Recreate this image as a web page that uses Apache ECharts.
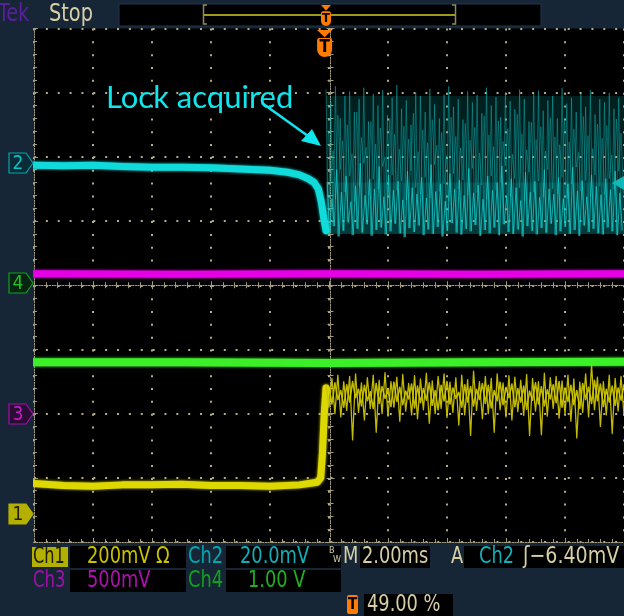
<!DOCTYPE html>
<html><head><meta charset="utf-8">
<script src="https://cdn.jsdelivr.net/npm/echarts/dist/echarts.min.js"></script>
<style>html,body{margin:0;padding:0;background:#172637;}#c{width:624px;height:616px;}</style>
</head><body><div id="c"></div>
<script>
// ---------- DATA (x in divisions 0..10, y in divisions 0..8) ----------
const ch2PreX = [0.00, 0.50, 1.00, 1.50, 2.00, 2.50, 3.00, 3.50, 4.00, 4.30, 4.50, 4.65, 4.75, 4.82, 4.87, 4.91, 4.95];
const ch2PreY = [5.87, 5.86, 5.87, 5.85, 5.84, 5.84, 5.83, 5.81, 5.79, 5.76, 5.72, 5.66, 5.60, 5.50, 5.30, 5.05, 4.85];

const noiseStart = 4.95, cyanStep = 0.08;
const cyanHi = [7.05, 6.85, 7.10, 6.60, 6.95, 7.02, 6.70, 6.90, 7.08, 6.55, 6.98, 6.80, 7.04, 6.65, 6.92, 7.12, 6.75, 6.88, 6.50, 7.00, 6.95, 6.70, 7.06, 6.82, 6.60, 6.97, 7.10, 6.78, 6.90, 6.58, 7.02, 6.85, 6.96, 6.68, 7.08, 6.80, 6.93, 6.62, 7.00, 6.87, 6.74, 7.05, 6.90, 6.55, 6.98, 7.03, 6.72, 6.88, 6.95, 6.60, 7.07, 6.83, 6.92, 6.70, 6.99, 6.78, 7.04, 6.66, 6.90, 6.85, 7.00, 6.75, 6.92];
const cyanUp = [6.40, 6.10, 6.65, 6.25, 6.50, 6.05, 6.70, 6.30, 6.15, 6.55, 6.20, 6.45, 6.00, 6.60, 6.35, 6.12, 6.48, 6.28, 6.68, 6.08, 6.42, 6.22, 6.58, 6.18, 6.38, 6.02, 6.62, 6.32, 6.14, 6.52, 6.26, 6.46, 6.06, 6.64, 6.34, 6.16, 6.56, 6.24, 6.44, 6.04, 6.66, 6.36, 6.11, 6.54, 6.27, 6.47, 6.09, 6.61, 6.31, 6.19, 6.57, 6.23, 6.43, 6.07, 6.63, 6.33, 6.13, 6.51, 6.29, 6.49, 6.03, 6.59, 6.37];
const cyanMid = [5.60, 5.35, 5.80, 5.45, 5.70, 5.30, 5.55, 5.90, 5.40, 5.65, 5.50, 5.85, 5.38, 5.72, 5.48, 5.62, 5.33, 5.78, 5.52, 5.42, 5.68, 5.36, 5.88, 5.46, 5.58, 5.31, 5.74, 5.50, 5.64, 5.40, 5.82, 5.44, 5.56, 5.34, 5.70, 5.48, 5.60, 5.86, 5.39, 5.66, 5.52, 5.32, 5.76, 5.45, 5.62, 5.37, 5.80, 5.50, 5.42, 5.68, 5.35, 5.58, 5.84, 5.47, 5.63, 5.38, 5.72, 5.54, 5.41, 5.66, 5.49, 5.78, 5.44];
const cyanLo = [4.80, 4.92, 4.76, 4.85, 4.98, 4.78, 4.88, 4.82, 4.95, 4.77, 4.86, 4.90, 4.79, 4.84, 4.96, 4.81, 4.75, 4.89, 4.83, 4.93, 4.78, 4.87, 4.80, 4.91, 4.76, 4.85, 4.97, 4.82, 4.79, 4.88, 4.84, 4.94, 4.77, 4.86, 4.81, 4.90, 4.78, 4.95, 4.83, 4.80, 4.87, 4.76, 4.92, 4.85, 4.79, 4.89, 4.82, 4.96, 4.78, 4.84, 4.91, 4.80, 4.86, 4.77, 4.93, 4.83, 4.88, 4.81, 4.79, 4.90, 4.84, 4.78, 4.86];
const ch2LockBand = [4.80, 6.95];
const ch2DenseBand = [4.80, 5.60];

const ch3X = [0.0, 2.5, 5.0, 7.5, 10.0];
const ch3Y = [4.18, 4.17, 4.18, 4.17, 4.18];
const ch4X = [0.0, 2.5, 5.0, 7.5, 10.0];
const ch4Y = [2.80, 2.80, 2.79, 2.80, 2.81];

const ch1PreX = [0.00, 0.50, 1.00, 1.50, 2.00, 2.50, 3.00, 3.50, 4.00, 4.50, 4.80, 4.86, 4.89, 4.92, 4.95];
const ch1PreY = [0.91, 0.88, 0.87, 0.89, 0.89, 0.90, 0.88, 0.88, 0.87, 0.89, 0.93, 1.00, 1.40, 2.00, 2.40];
const yelStep = 0.1;
const yelHi = [2.45, 2.55, 2.60, 2.50, 2.58, 2.62, 2.48, 2.56, 2.60, 2.52, 2.64, 2.50, 2.57, 2.61, 2.47, 2.59, 2.54, 2.63, 2.51, 2.58, 2.62, 2.49, 2.56, 2.60, 2.53, 2.66, 2.50, 2.58, 2.55, 2.62, 2.48, 2.59, 2.57, 2.52, 2.61, 2.55, 2.50, 2.63, 2.56, 2.58, 2.51, 2.60, 2.54, 2.49, 2.62, 2.76, 2.57, 2.50, 2.60, 2.55, 2.58];
const yelLo = [2.10, 2.00, 1.95, 2.05, 1.59, 2.02, 1.90, 2.08, 1.71, 2.00, 1.96, 2.10, 1.88, 2.04, 1.98, 1.92, 2.06, 1.85, 2.00, 2.08, 1.94, 2.02, 1.82, 1.98, 1.66, 2.05, 1.92, 2.00, 1.71, 2.06, 1.95, 1.90, 2.03, 1.97, 1.66, 2.04, 1.67, 1.96, 2.08, 1.93, 2.00, 1.88, 1.62, 2.02, 1.95, 2.06, 1.80, 1.98, 1.69, 2.04, 1.97];
const yelMidHi = [2.40, 2.48, 2.36, 2.45, 2.50, 2.38, 2.44, 2.34, 2.47, 2.42, 2.37, 2.49, 2.41, 2.35, 2.46, 2.43, 2.39, 2.48, 2.36, 2.44, 2.50, 2.40, 2.33, 2.45, 2.42, 2.38, 2.47, 2.44, 2.36, 2.49, 2.41, 2.46, 2.39, 2.43, 2.35, 2.48, 2.42, 2.37, 2.45, 2.50, 2.40, 2.44, 2.36, 2.47, 2.41, 2.52, 2.46, 2.38, 2.43, 2.40, 2.45];
const yelMidLo = [2.15, 2.22, 2.10, 2.18, 2.25, 2.12, 2.20, 2.08, 2.16, 2.24, 2.11, 2.19, 2.14, 2.23, 2.09, 2.17, 2.21, 2.13, 2.06, 2.20, 2.15, 2.24, 2.10, 2.18, 2.12, 2.22, 2.16, 2.09, 2.20, 2.14, 2.25, 2.11, 2.18, 2.07, 2.21, 2.15, 2.12, 2.23, 2.17, 2.10, 2.19, 2.14, 2.08, 2.22, 2.16, 2.20, 2.11, 2.18, 2.13, 2.21, 2.16];

// ---------- helpers ----------
function pairs(xs, ys) { return xs.map((x, i) => [x, ys[i]]); }
function zigzag(start, step, hi, lo) {
  const n = Math.min(hi.length, lo.length), out = [];
  for (let i = 0; i < n; i++) {
    out.push([start + i * step, hi[i]]);
    out.push([start + i * step + step / 2, lo[i]]);
  }
  return out;
}

const GRAT = '#a39c7c';
const DOT = '#b4ac86';
const NAVY = '#172637';
const TAN = '#d6cfa6';
const FONT = '"DejaVu Sans Condensed", "DejaVu Sans", sans-serif';

function axisCommon(extra) {
  return Object.assign({
    type: 'value', min: 0, interval: 1,
    axisLabel: { show: false },
    axisLine: { show: true, lineStyle: { color: GRAT, width: 1, type: [1, 1.6] } },
    axisTick: { show: true, inside: true, length: 4, lineStyle: { color: GRAT } },
    minorTick: { show: true, splitNumber: 5, length: 3, lineStyle: { color: GRAT } },
    splitLine: { show: false }
  }, extra);
}

const xAxes = [
  axisCommon({ max: 10, position: 'bottom',
    splitLine: { show: true, lineStyle: { color: DOT, width: 2, type: [2, 10.84] } } }),
  axisCommon({ max: 10, position: 'top' }),
  axisCommon({ max: 10, position: 'bottom', offset: -256.75 }),
  axisCommon({ max: 10, position: 'top', offset: -256.75 })
];
const yAxes = [
  axisCommon({ max: 8, position: 'left',
    splitLine: { show: true, lineStyle: { color: DOT, width: 2, type: [2, 9.86] } } }),
  axisCommon({ max: 8, position: 'right' }),
  axisCommon({ max: 8, position: 'left', offset: -296.5 }),
  axisCommon({ max: 8, position: 'right', offset: -296.5 })
];

function lineSeries(data, color, width, opacity, z) {
  return {
    type: 'line', data, xAxisIndex: 0, yAxisIndex: 0, showSymbol: false, symbol: 'none',
    animation: false, silent: true, z: z || 3,
    lineStyle: { color, width, opacity: opacity == null ? 1 : opacity, cap: 'round', join: 'round',
      shadowColor: color, shadowBlur: width > 3 ? 3 : 0 }
  };
}

const series = [
  lineSeries(pairs(ch3X, ch3Y), '#e600e6', 7),
  lineSeries(pairs(ch4X, ch4Y), '#3cf028', 8),
  Object.assign(lineSeries(zigzag(noiseStart, cyanStep, cyanHi, cyanLo), '#14c4c4', 0.6, 0.7), {
    markArea: { silent: true, itemStyle: { color: 'rgba(0,180,180,0.18)' },
      data: [
        [{ xAxis: noiseStart, yAxis: ch2LockBand[0] }, { xAxis: 10, yAxis: ch2LockBand[1] }],
        [{ xAxis: noiseStart, yAxis: ch2DenseBand[0] }, { xAxis: 10, yAxis: ch2DenseBand[1] }]
      ] }
  }),
  lineSeries(zigzag(noiseStart + 0.04, cyanStep, cyanUp, cyanMid), '#14c0c0', 0.6, 0.65),
  lineSeries(zigzag(noiseStart + 0.02, cyanStep, cyanMid, cyanLo), '#18cccc', 0.9, 0.85),
  lineSeries(pairs(ch2PreX, ch2PreY), '#10dada', 7),
  lineSeries(pairs(ch1PreX, ch1PreY), '#dcd800', 7),
  lineSeries(zigzag(noiseStart, yelStep, yelHi, yelLo), '#ccc400', 1.3, 0.95),
  lineSeries(zigzag(noiseStart + 0.05, yelStep, yelMidHi, yelMidLo), '#d4cc00', 1.6, 0.9)
];

// ---------- chrome (scope frame) ----------
const g = [];
function rect(x, y, w, h, fill, extra) { g.push(Object.assign({ type: 'rect', shape: { x, y, width: w, height: h }, style: { fill }, z: 10, silent: true }, extra || {})); }
function text(x, y, s, fill, size, opts) {
  opts = opts || {};
  g.push({ type: 'text', x, y, scaleX: opts.sx || 0.86, z: 12, silent: true,
    style: { text: s, fill, font: (opts.weight || 'normal') + ' ' + size + 'px ' + (opts.font || FONT),
      textVerticalAlign: 'middle', textAlign: opts.align || 'left' } });
}
// top bar
rect(0, 0, 624, 28, NAVY);
text(-2, 14, 'Tek', '#5a1f9c', 25, { sx: 0.86 });
text(49, 14, 'Stop', TAN, 25, { sx: 0.86 });
rect(119, 4, 422, 22, '#000', { style: { fill: '#000', stroke: '#22344c', lineWidth: 1 } });
g.push({ type: 'line', shape: { x1: 204, y1: 15, x2: 456, y2: 15 }, style: { stroke: '#a09a1c', lineWidth: 2 }, z: 11, silent: true });
g.push({ type: 'polyline', shape: { points: [[207, 5], [203.5, 5], [203.5, 24], [207, 24]] }, style: { stroke: '#8c8a64', lineWidth: 1.5, fill: null }, z: 11, silent: true });
g.push({ type: 'polyline', shape: { points: [[452, 5], [455.5, 5], [455.5, 24], [452, 24]] }, style: { stroke: '#8c8a64', lineWidth: 1.5, fill: null }, z: 11, silent: true });
function tMarker(cx, ty, h, w) {
  g.push({ type: 'polygon', shape: { points: [[cx - w / 2, ty], [cx + w / 2, ty], [cx, ty + h * 0.27]] }, style: { fill: '#ff7c00' }, z: 13, silent: true });
  g.push({ type: 'rect', shape: { x: cx - w / 2, y: ty + h * 0.3, width: w, height: h * 0.7, r: [2, 2, w / 2, w / 2] }, style: { fill: '#ff7c00' }, z: 13, silent: true });
  g.push({ type: 'text', x: cx, y: ty + h * 0.66, z: 14, silent: true, style: { text: 'T', fill: '#000', font: 'bold ' + Math.round(h * 0.62) + 'px ' + FONT, textAlign: 'center', textVerticalAlign: 'middle' } });
}
tMarker(326, 5, 21, 10);
tMarker(324.6, 30, 27, 15);
// left strip and channel markers
rect(0, 28, 33, 516, NAVY);
function chMarker(cy, label, fill, stroke, tc) {
  g.push({ type: 'polygon', shape: { points: [[9, cy - 10], [26, cy - 10], [33, cy], [26, cy + 10], [9, cy + 10]] },
    style: { fill, stroke, lineWidth: 1.2 }, z: 13, silent: true });
  g.push({ type: 'text', x: 18, y: cy + 1, z: 14, silent: true, style: { text: label, fill: tc, font: '19px ' + FONT, textAlign: 'center', textVerticalAlign: 'middle' } });
}
chMarker(163, '2', '#0a2c36', '#0aa0a8', '#10c0c8');
chMarker(283, '4', '#0a2414', '#10a020', '#20c020');
chMarker(414, '3', '#2a0c34', '#a010a8', '#c020c0');
chMarker(514, '1', '#b4b000', '#b4b000', '#202000');
// trigger level arrow on the right edge
g.push({ type: 'polygon', shape: { points: [[612, 183], [624, 176], [624, 190]] }, style: { fill: '#10b8b8' }, z: 13, silent: true });
// bottom bar
rect(0, 543, 624, 73, NAVY);
rect(32, 547, 36, 20, '#b4b000');
text(33, 557, 'Ch1', '#1c1c00', 23, { sx: 0.78 });
rect(70, 546, 116, 22, '#000');
text(87, 557, '200mV Ω', '#c8c200', 23);
text(188, 557, 'Ch2', '#00a8b0', 23);
rect(226, 546, 115, 22, '#000');
text(240, 557, '20.0mV', '#10b0b8', 23);
text(329, 551, 'B', TAN, 9, { sx: 1 });
text(333, 560, 'W', TAN, 9, { sx: 1 });
text(343, 557, 'M', TAN, 23);
rect(360, 546, 70, 22, '#000');
text(362, 557, '2.00ms', TAN, 23);
text(451, 557, 'A', TAN, 23);
rect(464, 546, 160, 22, '#000');
text(479, 557, 'Ch2', '#10b0b8', 23);
text(523, 557, 'ʃ−6.40mV', TAN, 23, { sx: 0.92 });
text(33, 581, 'Ch3', '#a010a8', 23, { sx: 0.8 });
rect(70, 570, 116, 22, '#000');
text(87, 581, '500mV', '#b010b0', 23);
text(188, 581, 'Ch4', '#10a020', 23);
rect(226, 570, 115, 22, '#000');
text(248, 581, '1.00 V', '#20b020', 23);
rect(347, 595, 11, 19, '#ff7c00', { shape: { x: 347, y: 595, width: 11, height: 19, r: 2 } });
g.push({ type: 'text', x: 352.5, y: 605, z: 14, silent: true, style: { text: 'T', fill: '#000', font: 'bold 15px ' + FONT, textAlign: 'center', textVerticalAlign: 'middle' } });
rect(364, 594, 89, 22, '#000');
text(367, 605, '49.00 %', TAN, 23);
// annotation
g.push({ type: 'text', x: 106, y: 98, z: 20, silent: true, style: { text: 'Lock acquired', fill: '#10e4ec', font: '31px Lato, "Open Sans", sans-serif', textVerticalAlign: 'middle' } });
g.push({ type: 'line', shape: { x1: 262, y1: 103, x2: 308, y2: 136 }, style: { stroke: '#10e4ec', lineWidth: 2.5 }, z: 20, silent: true });
g.push({ type: 'polygon', shape: { points: [[321, 146], [301, 141], [312, 129]] }, style: { fill: '#10e4ec' }, z: 20, silent: true });

const chart = echarts.init(document.getElementById('c'), null, { renderer: 'canvas' });
chart.setOption({
  animation: false,
  backgroundColor: NAVY,
  grid: { left: 34, top: 28.5, width: 593, height: 513.5, show: true, backgroundColor: '#000', borderWidth: 0 },
  xAxis: xAxes,
  yAxis: yAxes,
  series,
  graphic: g
});
</script></body></html>
